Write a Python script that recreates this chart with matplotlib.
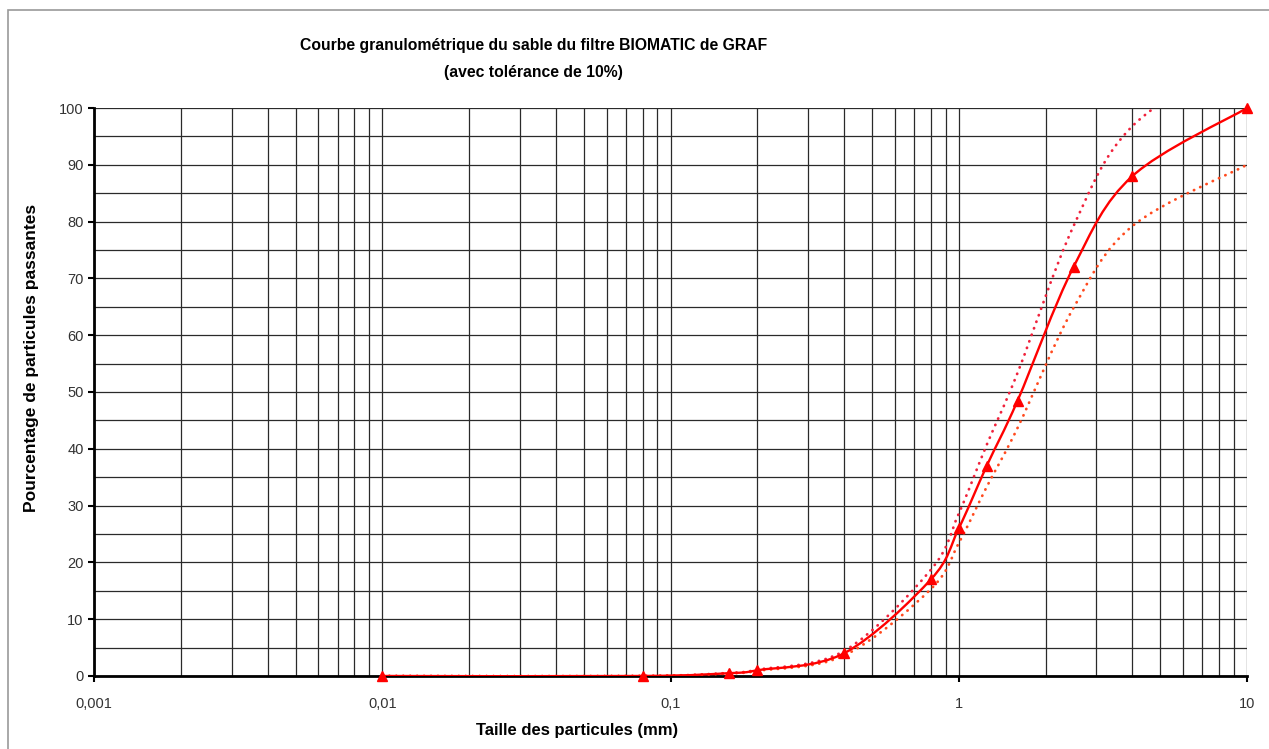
import matplotlib
matplotlib.use("Agg")
import numpy as np
import matplotlib.pyplot as plt
from matplotlib.patches import Rectangle, PathPatch
from matplotlib.path import Path
from matplotlib.ticker import FixedLocator, LogLocator, NullFormatter, MultipleLocator

plt.rcParams["font.family"] = ["Liberation Sans", "DejaVu Sans"]

# tamis (mm) et pourcentages passants
taille = [0.01, 0.08, 0.16, 0.2, 0.4, 0.8, 1.0, 1.25, 1.6, 2.5, 4.0, 10.0]
passant = [0, 0, 0.5, 1, 4, 17, 26, 37, 48.5, 72, 88, 100]
# bornes de tolerance (+/- 10%)
borne_haute = [0, 0, 0.55, 1.1, 4.4, 18.7, 28.6, 40.7, 53.4, 79.2, 96.8, 110]
borne_basse = [0, 0, 0.45, 0.9, 3.6, 15.3, 23.4, 33.3, 43.7, 64.8, 79.2, 90]

x_ticks = [0.001, 0.01, 0.1, 1, 10]
x_labels = ["0,001", "0,01", "0,1", "1", "10"]


def smooth_path(x, y):
    """Courbe lissee facon Excel (Bezier Catmull-Rom dans l'espace log-x)"""
    u = np.log10(x)
    v = np.asarray(y, dtype=float)
    n = len(u)
    verts = [(x[0], v[0])]
    codes = [Path.MOVETO]
    for i in range(n - 1):
        i0 = max(i - 1, 0)
        i3 = min(i + 2, n - 1)
        c1u = u[i] + (u[i + 1] - u[i0]) / 6
        c1v = v[i] + (v[i + 1] - v[i0]) / 6
        c2u = u[i + 1] - (u[i3] - u[i]) / 6
        c2v = v[i + 1] - (v[i3] - v[i]) / 6
        verts += [(10 ** c1u, c1v), (10 ** c2u, c2v), (x[i + 1], v[i + 1])]
        codes += [Path.CURVE4] * 3
    return Path(verts, codes)


fig = plt.figure(figsize=(12.69, 7.49), dpi=100)
ax = fig.add_axes([0.0741, 0.0975, 0.9086, 0.7583])

ax.set_xscale("log")
ax.set_xlim(0.001, 10)
ax.set_ylim(0, 100)

dot = (0, (0.1, 2.4))
for serie, couleur in [(borne_haute, "#f0223c"), (borne_basse, "#ff4a1e")]:
    ax.add_patch(PathPatch(smooth_path(taille, serie), fill=False, edgecolor=couleur,
                           lw=2.0, linestyle=dot, capstyle="round", zorder=3))
ax.add_patch(PathPatch(smooth_path(taille, passant), fill=False, edgecolor="#ff0000",
                       lw=1.7, zorder=4))
ax.plot(taille, passant, linestyle="none", color="#ff0000", marker="^",
        markersize=7, zorder=5, clip_on=False)

ax.xaxis.set_major_locator(FixedLocator(x_ticks))
ax.set_xticklabels(x_labels)
ax.xaxis.set_minor_locator(LogLocator(base=10, subs=range(2, 10)))
ax.xaxis.set_minor_formatter(NullFormatter())
ax.yaxis.set_major_locator(MultipleLocator(10))
ax.yaxis.set_minor_locator(MultipleLocator(5))

ax.grid(which="both", color="#2a2a2a", lw=0.9)
ax.set_axisbelow(True)

for s in ["top", "right"]:
    ax.spines[s].set_visible(False)
ax.spines["left"].set_linewidth(2.0)
ax.spines["bottom"].set_linewidth(2.0)
ax.tick_params(axis="both", which="major", labelsize=10.5, labelcolor="#333333",
               length=4, width=1.5, direction="out")
ax.tick_params(axis="both", which="minor", length=0)
ax.tick_params(axis="x", pad=11)

ax.set_xlabel("Taille des particules (mm)", fontsize=12, fontweight="bold")
ax.xaxis.set_label_coords(0.419, -0.083)
ax.set_ylabel("Pourcentage de particules passantes", fontsize=12.5,
              fontweight="bold")
ax.yaxis.set_label_coords(-0.048, 0.56)

fig.text(0.4205, 0.939, "Courbe granulométrique du sable du filtre BIOMATIC de GRAF",
         ha="center", va="center", fontsize=11.3, fontweight="bold")
fig.text(0.4205, 0.903, "(avec tolérance de 10%)", ha="center", va="center",
         fontsize=11.3, fontweight="bold")

fig.patches.append(Rectangle((0.0063, -0.05), 1.05, 1.036, transform=fig.transFigure,
                             fill=False, edgecolor="#9a9a9a", lw=1.2))

fig.savefig("out.png", dpi=100)
